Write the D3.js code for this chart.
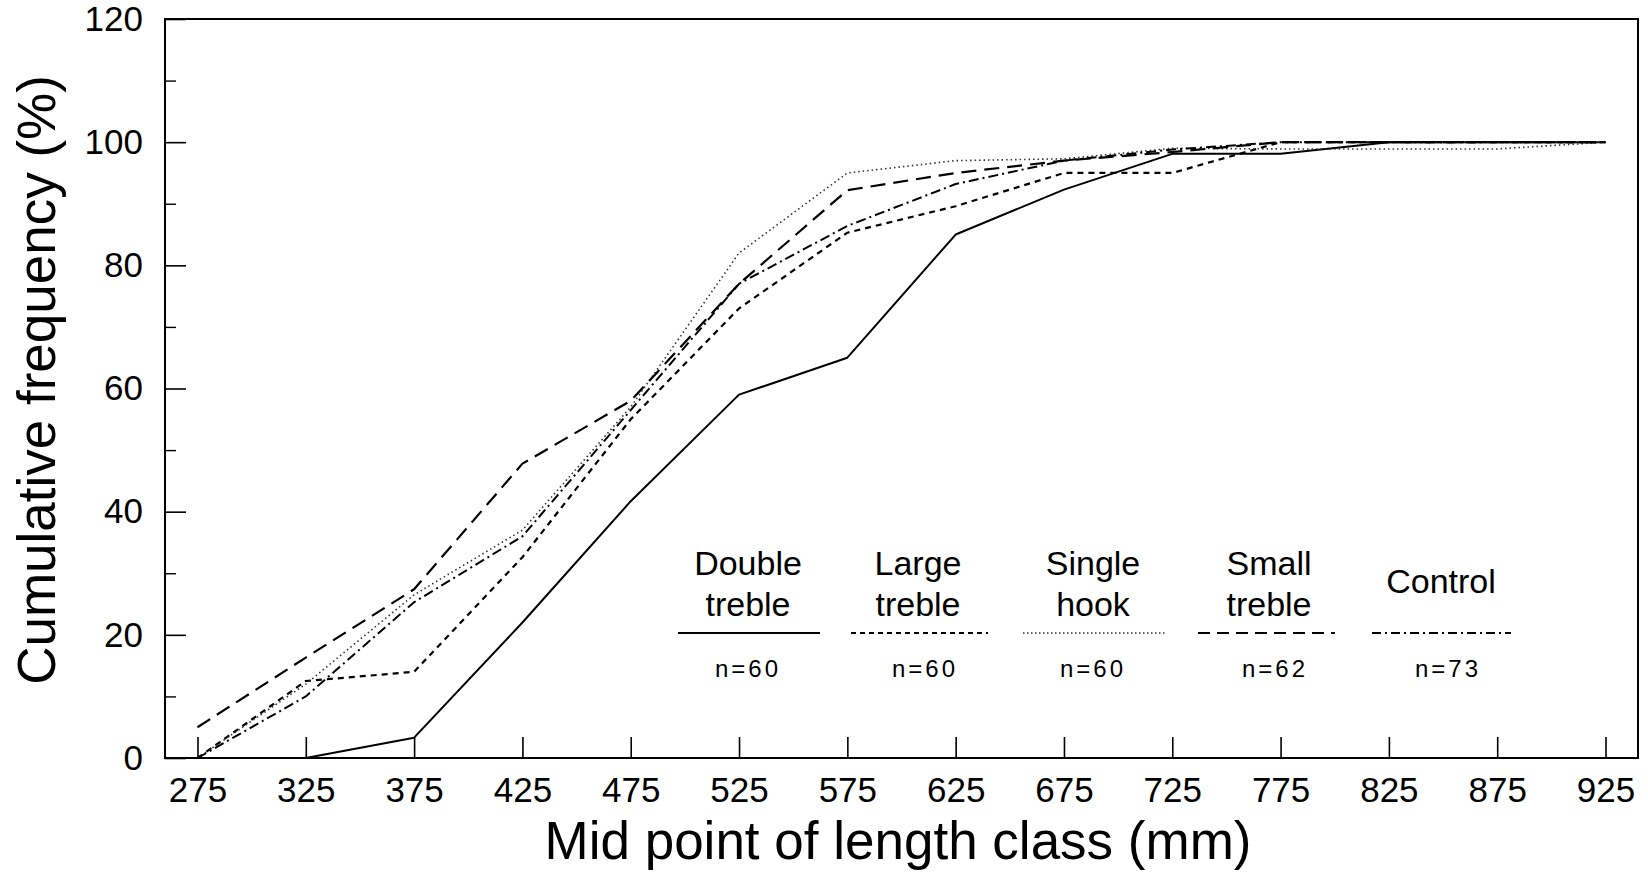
<!DOCTYPE html>
<html>
<head>
<meta charset="utf-8">
<script src="https://cdn.jsdelivr.net/npm/d3@7"></script>
<style>
  html, body { margin: 0; padding: 0; background: #fff; }
  svg { display: block; }
  text { font-family: "Liberation Sans", Arial, Helvetica, sans-serif; fill: #000; }
</style>
</head>
<body>
<svg id="chart" width="1648" height="875"></svg>
<script>
// ---- Data ----
const lengthClasses = [275, 325, 375, 425, 475, 525, 575, 625, 675, 725, 775, 825, 875, 925];
const doubleTreble = [0, 0, 3.3, 22, 41.7, 59, 65, 85, 92.3, 98.1, 98.1, 100, 100, 100];
const largeTreble  = [0, 12.5, 14, 32.6, 55, 73, 85.3, 89.6, 95, 95, 100, 100, 100, 100];
const singleHook   = [0, 12, 26.5, 37, 57, 82, 95, 97, 97.3, 99, 98.9, 98.9, 98.9, 100];
const smallTreble  = [5, 16.3, 27.4, 47.8, 58, 77, 92.2, 95, 97, 98.4, 100, 100, 100, 100];
const control      = [0, 10, 25.3, 36, 56.5, 77, 86.4, 93.2, 97, 98.8, 100, 100, 100, 100];

const seriesNames = ["Double treble", "Large treble", "Single hook", "Small treble", "Control"];
const legendLine1 = ["Double", "Large", "Single", "Small", "Control"];
const legendLine2 = ["treble", "treble", "hook", "treble", ""];
const sampleSizes = ["n=60", "n=60", "n=60", "n=62", "n=73"];
const yMajorTicks = [0, 20, 40, 60, 80, 100, 120];
const yMinorTicks = [10, 30, 50, 70, 90, 110];
const xTitle = "Mid point of length class (mm)";
const yTitle = "Cumulative frequency (%)";

(function () {
// ---- Styles per series ----
const styles = [
  { dash: null,        width: 2.0, color: "#000" },
  { dash: "6,5",       width: 2.2, color: "#000" },
  { dash: "1.5,3",     width: 1.6, color: "#333" },
  { dash: "15,8",      width: 2.2, color: "#000" },
  { dash: "10,4,2,4",  width: 2.0, color: "#000" }
];
const allSeries = [doubleTreble, largeTreble, singleHook, smallTreble, control];

// ---- Layout ----
const mLeft = 165, mRight = 1638, mTop = 19, mBottom = 758;
const svg = d3.select("#chart");

const x = d3.scaleLinear().domain([260, 940]).range([mLeft, mRight]);
const y = d3.scaleLinear().domain([0, 120]).range([mBottom, mTop]);

// Frame
svg.append("rect")
  .attr("x", mLeft).attr("y", mTop)
  .attr("width", mRight - mLeft).attr("height", mBottom - mTop)
  .attr("fill", "none").attr("stroke", "#000").attr("stroke-width", 2);

// Y axis major
const yAxis = svg.append("g").attr("transform", `translate(${mLeft},0)`)
  .call(d3.axisLeft(y).tickValues(yMajorTicks).tickSizeInner(-21).tickSizeOuter(0).tickPadding(22).tickFormat(d3.format("d")));
yAxis.select(".domain").remove();
yAxis.selectAll("line").attr("stroke", "#000").attr("stroke-width", 1.6);
yAxis.selectAll("text").attr("font-size", 35).attr("font-family", "'Liberation Sans', Arial, sans-serif");

// Y axis minor
const yMinor = svg.append("g").attr("transform", `translate(${mLeft},0)`)
  .call(d3.axisLeft(y).tickValues(yMinorTicks).tickSizeInner(-11).tickSizeOuter(0).tickFormat(""));
yMinor.select(".domain").remove();
yMinor.selectAll("line").attr("stroke", "#000").attr("stroke-width", 1.4);

// X axis
const xAxis = svg.append("g").attr("transform", `translate(0,${mBottom})`)
  .call(d3.axisBottom(x).tickValues(lengthClasses).tickSizeInner(-21).tickSizeOuter(0).tickPadding(19).tickFormat(d3.format("d")));
xAxis.select(".domain").remove();
xAxis.selectAll("line").attr("stroke", "#000").attr("stroke-width", 1.6);
xAxis.selectAll("text").attr("font-size", 35).attr("font-family", "'Liberation Sans', Arial, sans-serif");

// Lines
const line = d3.line()
  .defined(d => d[1] != null)
  .x(d => x(d[0]))
  .y(d => y(d[1]));

allSeries.forEach((vals, i) => {
  const pts = lengthClasses.map((c, j) => [c, vals[j]]);
  svg.append("path")
    .datum(pts)
    .attr("d", line)
    .attr("fill", "none")
    .attr("stroke", styles[i].color)
    .attr("stroke-width", styles[i].width)
    .attr("stroke-dasharray", styles[i].dash)
    .attr("stroke-linejoin", "round")
    .attr("data-name", seriesNames[i]);
});

// Legend
const legendCenters = [748, 918, 1093, 1269, 1441];
const nCenters = [748, 925, 1093, 1275, 1448];
const sampleX0 = [678, 851, 1023, 1198, 1372];
const sampleX1 = [820, 988, 1165, 1335, 1511];
const legendDash = [null, "5,4", "1.5,2.5", "12,7", "9,4,2,4"];
const legend = svg.append("g");
seriesNames.forEach((name, i) => {
  if (legendLine2[i]) {
    legend.append("text").attr("x", legendCenters[i]).attr("y", 575)
      .attr("text-anchor", "middle").attr("font-size", 34).text(legendLine1[i]);
    legend.append("text").attr("x", legendCenters[i]).attr("y", 616)
      .attr("text-anchor", "middle").attr("font-size", 34).text(legendLine2[i]);
  } else {
    legend.append("text").attr("x", legendCenters[i]).attr("y", 593)
      .attr("text-anchor", "middle").attr("font-size", 34).text(legendLine1[i]);
  }
  legend.append("line")
    .attr("x1", sampleX0[i]).attr("x2", sampleX1[i])
    .attr("y1", 633).attr("y2", 633)
    .attr("stroke", styles[i].color)
    .attr("stroke-width", i === 2 ? 1.4 : 1.8)
    .attr("stroke-dasharray", legendDash[i]);
  legend.append("text").attr("x", nCenters[i]).attr("y", 677)
    .attr("text-anchor", "middle").attr("font-size", 24)
    .attr("letter-spacing", 3).text(sampleSizes[i]);
});

// Axis titles
svg.append("text")
  .attr("x", 898).attr("y", 859)
  .attr("text-anchor", "middle").attr("font-size", 53)
  .text(xTitle);

svg.append("text")
  .attr("transform", "translate(55,380) rotate(-90)")
  .attr("text-anchor", "middle").attr("font-size", 53)
  .text(yTitle);
})();
</script>
</body>
</html>
